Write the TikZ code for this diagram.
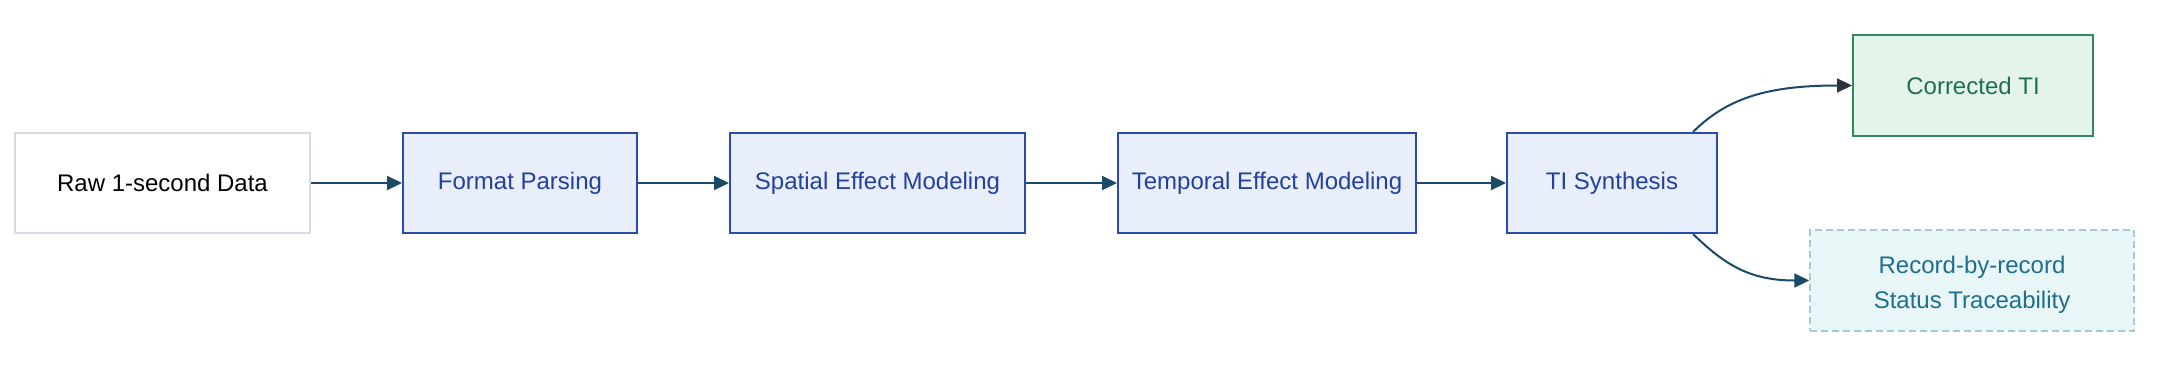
\documentclass[tikz,border=0pt]{standalone}
\usepackage{fontspec}
\setmainfont{Liberation Sans}
\usetikzlibrary{arrows.meta}
\definecolor{bluefill}{HTML}{E8EFFB}
\definecolor{blueline}{HTML}{2A4AAE}
\definecolor{bluetext}{HTML}{2340A0}
\definecolor{rawline}{HTML}{D5DCE2}
\definecolor{arrowcol}{HTML}{1B4A68}
\definecolor{arrowdark}{HTML}{2A3540}
\definecolor{greenfill}{HTML}{E5F4EB}
\definecolor{greenline}{HTML}{2E8B5A}
\definecolor{greentext}{HTML}{1E7048}
\definecolor{tracefill}{HTML}{E9F6F7}
\definecolor{traceline}{HTML}{A3CBD2}
\definecolor{tracetext}{HTML}{1F6E8E}
\tikzset{
  box/.style={rectangle, inner sep=0pt, minimum height=100pt, align=center,
    font=\fontsize{24}{35}\selectfont},
  rawbox/.style={box, draw=rawline, line width=1.5pt, fill=white, text=black},
  procbox/.style={box, draw=blueline, line width=2pt, fill=bluefill, text=bluetext},
  outbox/.style={box, draw=greenline, line width=2pt, fill=greenfill, text=greentext},
  tracebox/.style={box, draw=traceline, line width=1.5pt, dash pattern=on 7pt off 4pt, fill=tracefill, text=tracetext},
  flow/.style={draw=arrowcol, line width=2pt, -{Triangle[length=15pt,width=14pt]}},
}
\begin{document}
\begin{tikzpicture}[x=1pt,y=-1pt]
\useasboundingbox (0,0) rectangle (2171,373);
\node[rawbox, minimum width=295pt] (raw) at (162.5,183) {Raw 1-second Data};
\node[procbox, minimum width=234pt] (fmt) at (520,183) {Format Parsing};
\node[procbox, minimum width=295pt] (spa) at (877.5,183) {Spatial Effect Modeling};
\node[procbox, minimum width=298pt] (tmp) at (1267,183) {Temporal Effect Modeling};
\node[procbox, minimum width=210pt] (ti) at (1612,183) {TI Synthesis};
\node[outbox, minimum width=240pt, minimum height=101pt] (cor) at (1973,85.5) {Corrected TI};
\node[tracebox, minimum width=324pt, minimum height=101pt] (rec) at (1972,280.5) {};
\node[inner sep=0pt, align=center, font=\fontsize{24}{35}\selectfont, text=tracetext] (rectext) at ([yshift=-4pt]rec.center) {Record-by-record\\Status Traceability};
\draw[flow] (raw) -- (fmt);
\draw[flow] (fmt) -- (spa);
\draw[flow] (spa) -- (tmp);
\draw[flow] (tmp) -- (ti);
\draw[flow, -{Triangle[length=15pt,width=14pt,color=arrowdark]}] ([xshift=-25pt]ti.north east) .. controls (1728,97) and (1770,85.5) .. (cor.west);
\draw[flow] ([xshift=-25pt]ti.south east) .. controls (1725,265) and (1750,280.5) .. (rec.west);
\end{tikzpicture}
\end{document}
